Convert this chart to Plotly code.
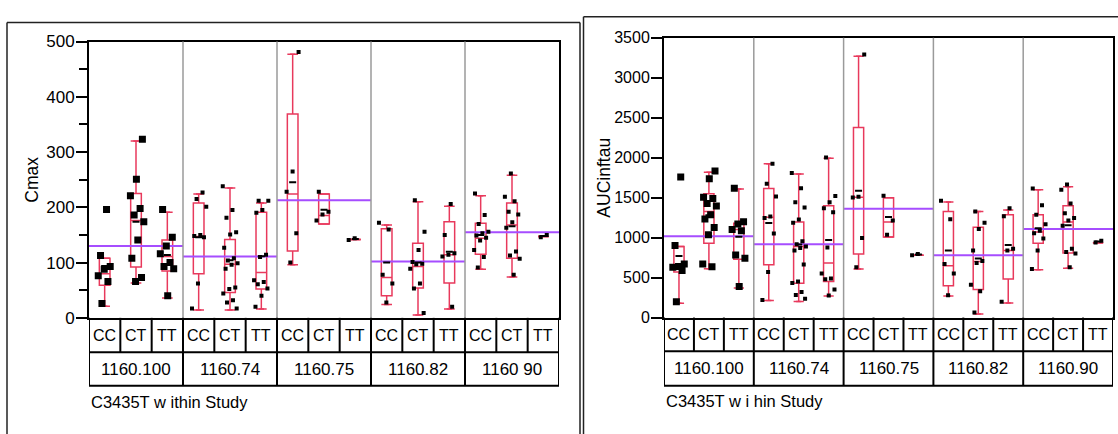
import numpy as np
import plotly.graph_objects as go

W, H = 1118, 434

# ---------------- data ----------------
genotypes = ["CC", "CT", "TT"]
studies_left = ["1160.100", "1160.74", "1160.75", "1160.82", "1160 90"]
studies_right = ["1160.100", "1160.74", "1160.75", "1160.82", "1160.90"]

# Cmax observations per study: [CC, CT, TT]
cmax_1160_100 = [[196, 113, 93, 88, 76, 66, 26],
                 [323, 251, 221, 198, 186, 174, 141, 108, 73, 66],
                 [196, 146, 130, 116, 100, 93, 89, 40]]
cmax_1160_74 = [[227, 215, 201, 150, 148, 146, 62, 17],
                [238, 195, 181, 155, 151, 127, 108, 104, 99, 96, 89, 55, 52, 44, 32, 28, 17],
                [212, 212, 195, 190, 114, 110, 68, 65, 61, 53, 40, 20]]
cmax_1160_75 = [[481, 265, 228, 153, 100],
                [228, 192, 187, 176],
                [144, 141]]
cmax_1160_82 = [[172, 160, 78, 62, 28],
                [213, 156, 123, 101, 98, 97, 89, 62, 53, 9],
                [206, 150, 117, 114, 111, 20]]
cmax_1160_90 = [[225, 186, 170, 156, 153, 149, 145, 140, 123, 110, 91],
                [261, 219, 211, 192, 187, 173, 163, 120, 113, 107, 78],
                [150, 146]]

# Cmax box summaries (15 cells, study-major, genotype-minor)
cmax_q1 = [59, 92, 85, 80, 46, 52, 121, 170, 142, 40, 54, 63, 115, 108, 147]
cmax_median = [80, 176, 111, 147, 97, 82, 224, 185, 142, 73, 93, 114, 144, 168, 147]
cmax_q3 = [108, 225, 141, 208, 142, 191, 369, 224, 142, 161, 135, 174, 171, 208, 147]
cmax_low = [21, 63, 36, 14, 14, 16, 96, 170, 142, 24, 5, 16, 88, 74, 147]
cmax_high = [108, 320, 191, 224, 235, 208, 477, 224, 142, 168, 210, 202, 221, 258, 147]
cmax_group_mean = [130, 111, 213, 102, 155]

# AUCinftau observations per study: [CC, CT, TT]
auc_1160_100 = [[1758, 900, 670, 640, 630, 590, 199],
                [1832, 1736, 1505, 1490, 1426, 1394, 1286, 1234, 1127, 1035, 669, 637],
                [1617, 1197, 1170, 1102, 1085, 781, 741, 390]]
auc_1160_74 = [[1925, 1674, 1515, 1264, 1245, 1052, 571, 220],
               [1809, 1618, 1441, 1377, 1227, 1187, 956, 916, 889, 870, 838, 663, 452, 432, 320, 283, 235],
               [2003, 1519, 1441, 1366, 1318, 877, 550, 490, 478, 352, 275]]
auc_1160_75 = [[3289, 1510, 1500, 995, 629],
               [1525, 1215, 1035],
               [796, 780]]
auc_1160_82 = [[1461, 1230, 669, 550, 279],
               [1326, 1187, 1107, 840, 709, 681, 410, 330, 64],
               [1366, 1266, 860, 840, 199]]
auc_1160_90 = [[1613, 1406, 1286, 1167, 1087, 1055, 988, 840, 609],
               [1665, 1597, 1426, 1306, 1246, 1215, 1147, 860, 820, 800, 629],
               [960, 940]]

auc_q1 = [570, 929, 729, 662, 430, 451, 796, 1007, 780, 398, 350, 482, 928, 808, 936]
auc_median = [630, 1327, 1100, 1254, 889, 682, 1505, 1195, 780, 649, 700, 840, 1070, 1195, 936]
auc_q3 = [889, 1547, 1180, 1614, 1196, 1399, 2377, 1497, 780, 1326, 1131, 1286, 1286, 1398, 936]
auc_low = [179, 610, 371, 212, 200, 271, 609, 1007, 780, 271, 44, 183, 597, 617, 936]
auc_high = [889, 1817, 1607, 1925, 1794, 1993, 3269, 1497, 780, 1445, 1326, 1346, 1597, 1637, 936]
auc_group_mean = [1016, 917, 1362, 780, 1107]

# ---------------- styles ----------------
RED = "#E8395C"
PURPLE = "#A64DFF"
GRAY = "#9A9A9A"
FONT = "Liberation Sans, Arial, sans-serif"
marker_sizes = [7, 4, 4, 4, 4]   # per study group
BOXW = 0.34


def px(x):
    return x / W


def py(y):
    return 1 - y / H


panels = [
    dict(xa="x", ya="y", cells=[cmax_1160_100, cmax_1160_74, cmax_1160_75, cmax_1160_82, cmax_1160_90],
         q1=cmax_q1, med=cmax_median, q3=cmax_q3, lo=cmax_low, hi=cmax_high, gm=cmax_group_mean,
         L=89, R=559, T=34, B=323, B1=359, B2=394, yr=[0, 500], dtick=100, minor=50, tfs=17,
         title="Cmax", title_x=32, studies=studies_left, footer="C3435T w ithin Study", footer_y=411),
    dict(xa="x2", ya="y2", cells=[auc_1160_100, auc_1160_74, auc_1160_75, auc_1160_82, auc_1160_90],
         q1=auc_q1, med=auc_median, q3=auc_q3, lo=auc_low, hi=auc_high, gm=auc_group_mean,
         L=664, R=1113, T=30, B=322.7, B1=358, B2=394, yr=[0, 3500], dtick=500, minor=None, tfs=16,
         title="AUCinftau", title_x=604, studies=studies_right, footer="C3435T w i hin Study", footer_y=410),
]

fig = go.Figure()
shapes = []
annotations = []
layout_axes = {}

for pi, p in enumerate(panels):
    xa, ya = p["xa"], p["ya"]
    ncell = len(p["cells"]) * len(genotypes)
    centers = [i + 0.5 for i in range(ncell)]

    # boxes
    fig.add_trace(go.Box(
        x=centers, q1=p["q1"], median=p["med"], q3=p["q3"],
        lowerfence=p["lo"], upperfence=p["hi"], width=BOXW,
        line=dict(color=RED, width=1.5), fillcolor="rgba(0,0,0,0)",
        boxpoints=False, xaxis=xa, yaxis=ya, showlegend=False, hoverinfo="skip"))

    # whisker caps
    cx, cy = [], []
    for c, lo, hi in zip(centers, p["lo"], p["hi"]):
        for v in (lo, hi):
            cx += [c - BOXW / 2, c + BOXW / 2, None]
            cy += [v, v, None]
    fig.add_trace(go.Scatter(x=cx, y=cy, mode="lines", line=dict(color=RED, width=1.5),
                             xaxis=xa, yaxis=ya, showlegend=False, hoverinfo="skip"))

    # group mean lines
    gx, gy = [], []
    for g, m in enumerate(p["gm"]):
        gx += [3 * g, 3 * g + 3, None]
        gy += [m, m, None]
    fig.add_trace(go.Scatter(x=gx, y=gy, mode="lines", line=dict(color=PURPLE, width=2),
                             xaxis=xa, yaxis=ya, showlegend=False, hoverinfo="skip"))

    # cell means
    mx, my = [], []
    for g, study in enumerate(p["cells"]):
        for k, vals in enumerate(study):
            mx.append(3 * g + k + 0.5)
            my.append(float(np.mean(vals)))
    fig.add_trace(go.Scatter(x=mx, y=my, mode="markers",
                             marker=dict(symbol="line-ew", size=5, line=dict(color="black", width=2)),
                             xaxis=xa, yaxis=ya, showlegend=False, hoverinfo="skip"))

    # points (deterministic jitter within cell)
    for g, study in enumerate(p["cells"]):
        px_, py_ = [], []
        for k, vals in enumerate(study):
            c = 3 * g + k + 0.5
            for j, v in enumerate(vals):
                off = (((j + 1) * 0.6180339887 + 0.29 * k + 0.13 * g) % 1.0 - 0.5) * 0.5
                px_.append(c + off)
                py_.append(v)
        fig.add_trace(go.Scatter(x=px_, y=py_, mode="markers",
                                 marker=dict(symbol="square", color="black", size=marker_sizes[g],
                                             line=dict(width=0)),
                                 xaxis=xa, yaxis=ya, showlegend=False, hoverinfo="skip"))

    # axes
    xkey = "xaxis" if xa == "x" else "xaxis2"
    ykey = "yaxis" if ya == "y" else "yaxis2"
    layout_axes[xkey] = dict(domain=[px(p["L"]), px(p["R"])], range=[0, ncell], anchor=ya,
                             showticklabels=False, ticks="", showgrid=False, zeroline=False,
                             showline=True, mirror=True, linecolor="black", linewidth=2)
    yax = dict(domain=[py(p["B"]), py(p["T"])], range=p["yr"], anchor=xa, dtick=p["dtick"],
               tick0=0, ticks="outside", ticklen=11, tickwidth=1.5, tickcolor="black",
               ticklabelstandoff=-2,
               showgrid=False, zeroline=False, showline=True, mirror=True,
               linecolor="black", linewidth=2,
               tickfont=dict(family=FONT, size=p["tfs"], color="black"))
    if p["minor"]:
        yax["minor"] = dict(dtick=p["minor"], ticks="outside", ticklen=8, tickwidth=1.5,
                            tickcolor="black", showgrid=False)
    layout_axes[ykey] = yax

    xref = xa
    # gray group dividers inside plot
    for g in range(1, len(p["cells"])):
        shapes.append(dict(type="line", xref=xref, yref="paper", x0=3 * g, x1=3 * g,
                           y0=py(p["B"]), y1=py(p["T"]), line=dict(color=GRAY, width=1.5)))
    # table below
    for yy in (p["B1"], p["B2"]):
        shapes.append(dict(type="line", xref=xref, yref="paper", x0=0, x1=ncell,
                           y0=py(yy), y1=py(yy), line=dict(color="black", width=2)))
    for k in range(ncell + 1):
        bottom = p["B2"] if k % 3 == 0 else p["B1"]
        shapes.append(dict(type="line", xref=xref, yref="paper", x0=k, x1=k,
                           y0=py(p["B"]), y1=py(bottom), line=dict(color="black", width=2)))
    for k in range(ncell):
        annotations.append(dict(text=genotypes[k % 3], xref=xref, yref="paper", x=k + 0.5,
                                y=py((p["B"] + p["B1"]) / 2), showarrow=False,
                                xanchor="center", yanchor="middle",
                                font=dict(family=FONT, size=16, color="black")))
    for g, s in enumerate(p["studies"]):
        annotations.append(dict(text=s, xref=xref, yref="paper", x=3 * g + 1.5,
                                y=py((p["B1"] + p["B2"]) / 2), showarrow=False,
                                xanchor="center", yanchor="middle",
                                font=dict(family=FONT, size=17, color="black")))
    annotations.append(dict(text=p["footer"], xref="paper", yref="paper", x=px(p["L"]),
                            y=py(p["footer_y"]), showarrow=False, xanchor="left", yanchor="middle",
                            font=dict(family=FONT, size=16.5, color="black")))
    annotations.append(dict(text=p["title"], xref="paper", yref="paper", x=px(p["title_x"]),
                            y=py((p["T"] + p["B"]) / 2), showarrow=False, textangle=-90,
                            xanchor="center", yanchor="middle",
                            font=dict(family=FONT, size=17.5, color="black")))

# outer panel frames
frame = dict(color="#222222", width=1.5)
shapes += [
    dict(type="line", xref="paper", yref="paper", x0=px(7), x1=px(580), y0=py(14), y1=py(14), line=frame),
    dict(type="line", xref="paper", yref="paper", x0=px(7), x1=px(7), y0=py(14), y1=-0.05, line=frame),
    dict(type="line", xref="paper", yref="paper", x0=px(580), x1=px(580), y0=py(14), y1=-0.05, line=frame),
    dict(type="line", xref="paper", yref="paper", x0=px(583.5), x1=1.05, y0=py(8), y1=py(8), line=frame),
    dict(type="line", xref="paper", yref="paper", x0=px(583.5), x1=px(583.5), y0=py(8), y1=-0.05, line=frame),
]

fig.update_layout(width=W, height=H, margin=dict(l=0, r=0, t=0, b=0),
                  paper_bgcolor="white", plot_bgcolor="white", showlegend=False,
                  shapes=shapes, annotations=annotations, **layout_axes)

fig.write_html("out.html", config={"displayModeBar": False},
               post_script="document.body.style.margin='0';document.body.style.overflow='hidden';")
